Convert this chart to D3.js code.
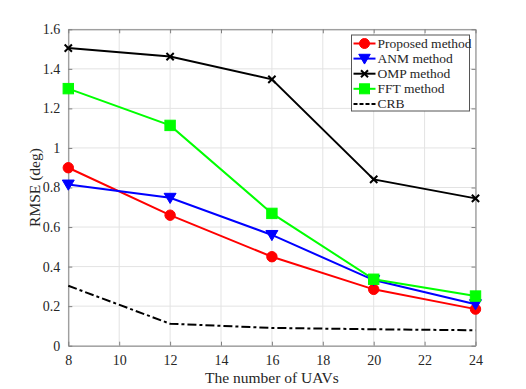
<!DOCTYPE html>
<html>
<head>
<meta charset="utf-8">
<script src="https://cdn.jsdelivr.net/npm/d3@7"></script>
<style>
  body { margin: 0; background: #fff; }
  svg text { font-family: "Liberation Serif", "Times New Roman", serif; fill: #262626; }
</style>
</head>
<body>
<div id="chart"></div>
<script>
var svgWidth = 526;
var svgHeight = 389;

var margin = { top: 29.3, right: 50.5, bottom: 43.3, left: 68.3 };
var width = svgWidth - margin.left - margin.right;
var height = svgHeight - margin.top - margin.bottom;

// data
var uavs = [8, 12, 16, 20, 24];
var proposed = [0.90, 0.66, 0.45, 0.285, 0.185];
var anm = [0.815, 0.748, 0.56, 0.332, 0.21];
var omp = [1.505, 1.462, 1.347, 0.841, 0.745];
var fft = [1.30, 1.114, 0.669, 0.336, 0.251];
var crb = [0.303, 0.111, 0.09, 0.083, 0.078];
var xTicks = [8, 10, 12, 14, 16, 18, 20, 22, 24];
var yTicks = [0, 0.2, 0.4, 0.6, 0.8, 1, 1.2, 1.4, 1.6];

var series = [
  { name: "Proposed method", values: proposed, color: "#ff0000", marker: "circle" },
  { name: "ANM method", values: anm, color: "#0000ff", marker: "tri" },
  { name: "OMP method", values: omp, color: "#000000", marker: "cross" },
  { name: "FFT method", values: fft, color: "#00ff00", marker: "square" },
  { name: "CRB", values: crb, color: "#000000", marker: "none", dash: "9,3,3,3" }
];

var svg = d3.select("#chart").append("svg")
  .attr("width", svgWidth)
  .attr("height", svgHeight);

var g = svg.append("g")
  .attr("transform", `translate(${margin.left}, ${margin.top})`);

var x = d3.scaleLinear().domain([8, 24]).range([0, width]);
var y = d3.scaleLinear().domain([0, 1.6]).range([height, 0]);

// grid
g.append("g").selectAll("line").data(xTicks).enter().append("line")
  .attr("x1", d => x(d)).attr("x2", d => x(d))
  .attr("y1", 0).attr("y2", height)
  .attr("stroke", "#e3e3e3").attr("stroke-width", 1);
g.append("g").selectAll("line").data(yTicks).enter().append("line")
  .attr("y1", d => y(d)).attr("y2", d => y(d))
  .attr("x1", 0).attr("x2", width)
  .attr("stroke", "#e3e3e3").attr("stroke-width", 1);

// axes with inward ticks
var bottomAxis = d3.axisBottom(x).tickValues(xTicks).tickSizeInner(-4).tickSizeOuter(0).tickPadding(9).tickFormat(d3.format("d"));
var leftAxis = d3.axisLeft(y).tickValues(yTicks).tickSizeInner(-4).tickSizeOuter(0).tickPadding(8).tickFormat(d => d === 0 ? "0" : d3.format("~g")(d));
var topAxis = d3.axisTop(x).tickValues(xTicks).tickSizeInner(-4).tickSizeOuter(0).tickFormat("");
var rightAxis = d3.axisRight(y).tickValues(yTicks).tickSizeInner(-4).tickSizeOuter(0).tickFormat("");

function styleAxis(sel) {
  sel.attr("font-family", "Liberation Serif").attr("font-size", 14);
  sel.select(".domain").attr("stroke", "#808080");
  sel.selectAll(".tick line").attr("stroke", "#808080");
  sel.selectAll(".tick text").attr("fill", "#262626");
}

g.append("g").attr("transform", `translate(0, ${height})`).call(bottomAxis).call(styleAxis);
g.append("g").call(leftAxis).call(styleAxis);
g.append("g").call(topAxis).call(styleAxis);
g.append("g").attr("transform", `translate(${width}, 0)`).call(rightAxis).call(styleAxis);

// lines
var line = d3.line()
  .x((d, i) => x(uavs[i]))
  .y(d => y(d));

series.forEach(function(s) {
  g.append("path")
    .datum(s.values)
    .attr("d", line)
    .attr("fill", "none")
    .attr("stroke", s.color)
    .attr("stroke-width", 2)
    .attr("stroke-dasharray", s.dash || null);
});

function drawMarker(sel, type, color, cx, cy, size) {
  if (type === "circle") {
    sel.append("circle").attr("cx", cx).attr("cy", cy).attr("r", size)
      .attr("fill", color).attr("stroke", color);
  } else if (type === "tri") {
    var s = size * 1.15;
    sel.append("path")
      .attr("d", `M${cx - s},${cy - s * 0.75}L${cx + s},${cy - s * 0.75}L${cx},${cy + s * 0.95}Z`)
      .attr("fill", color).attr("stroke", color);
  } else if (type === "square") {
    sel.append("rect").attr("x", cx - size).attr("y", cy - size)
      .attr("width", size * 2).attr("height", size * 2)
      .attr("fill", color).attr("stroke", color);
  } else if (type === "cross") {
    var c = size * 0.7;
    sel.append("path")
      .attr("d", `M${cx - c},${cy - c}L${cx + c},${cy + c}M${cx - c},${cy + c}L${cx + c},${cy - c}`)
      .attr("stroke", color).attr("stroke-width", 2);
  }
}

series.forEach(function(s) {
  var mg = g.append("g");
  s.values.forEach(function(v, i) {
    drawMarker(mg, s.marker, s.color, x(uavs[i]), y(v), 5.2);
  });
});

// legend
var lg = svg.append("g").attr("transform", "translate(351.5, 35)");
lg.append("rect").attr("width", 118).attr("height", 76)
  .attr("fill", "#fff").attr("stroke", "#555").attr("stroke-width", 1);
series.forEach(function(s, i) {
  var ly = 8.5 + i * 15.1;
  lg.append("line").attr("x1", 2).attr("x2", 24).attr("y1", ly).attr("y2", ly)
    .attr("stroke", s.color).attr("stroke-width", 2)
    .attr("stroke-dasharray", s.dash ? "4,2" : null);
  drawMarker(lg, s.marker, s.color, 13, ly, 5);
  lg.append("text").attr("x", 26).attr("y", ly + 4.5)
    .style("font-size", "13.5px").text(s.name);
});

// axis labels
g.append("text")
  .attr("transform", "rotate(-90)")
  .attr("x", -height / 2)
  .attr("y", -margin.left + 40)
  .attr("text-anchor", "middle")
  .style("font-size", "15.5px")
  .text("RMSE (deg)");

g.append("text")
  .attr("x", width / 2)
  .attr("y", height + 37)
  .attr("text-anchor", "middle")
  .style("font-size", "15.5px")
  .text("The number of UAVs");
</script>
</body>
</html>
